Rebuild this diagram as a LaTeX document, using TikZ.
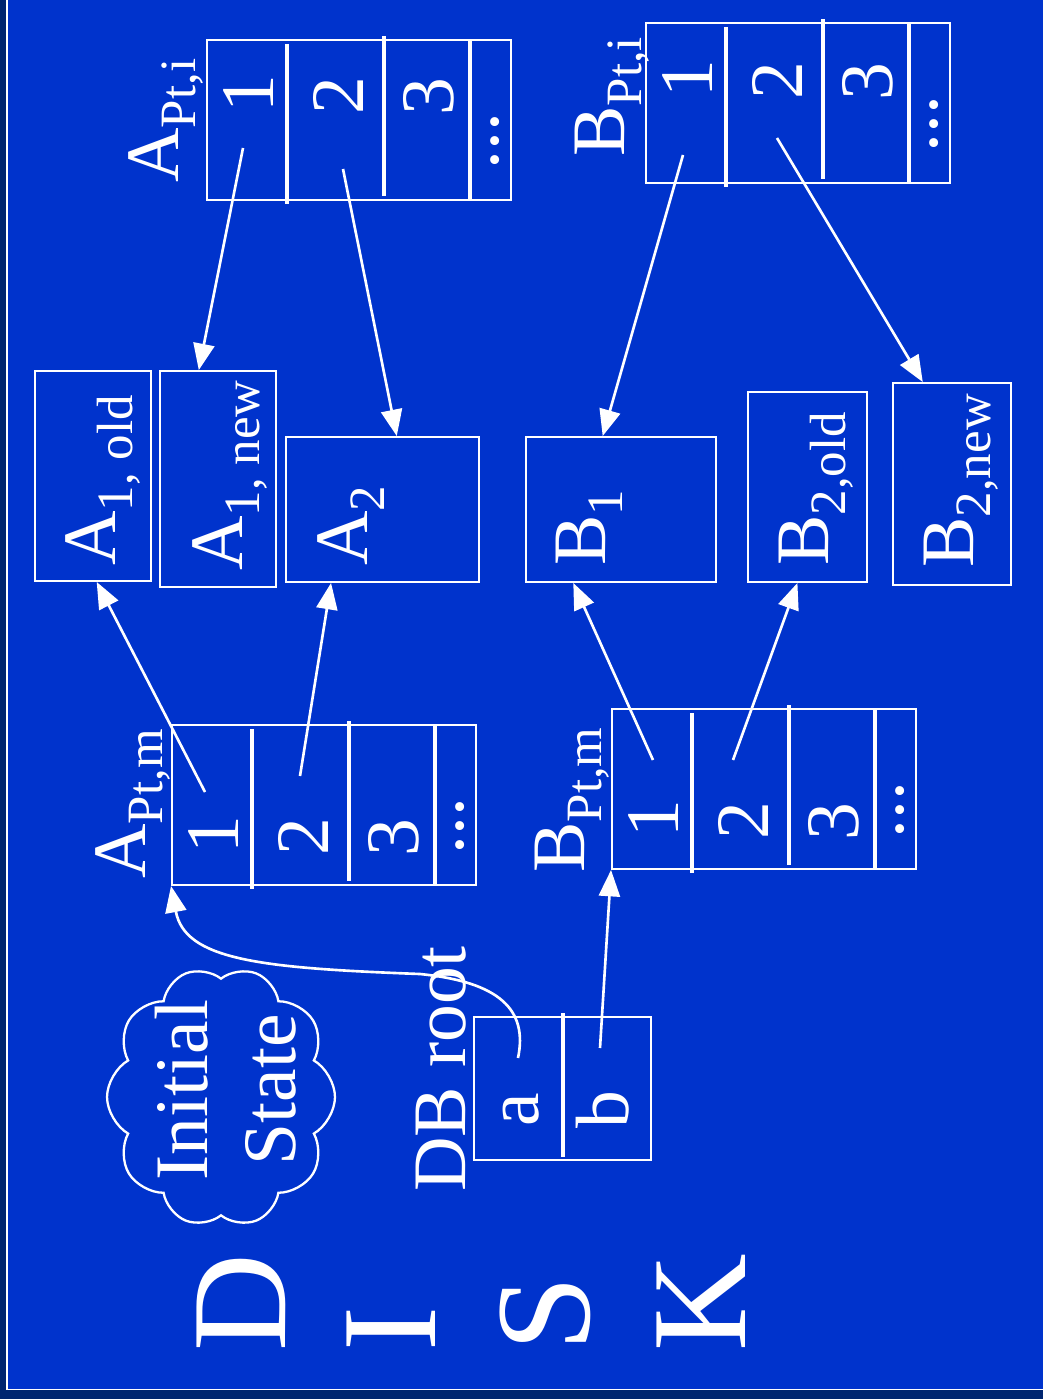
\documentclass[tikz,border=0pt]{standalone}
\usepackage{fontspec}
\setmainfont{Liberation Serif}
\definecolor{dbBlue}{HTML}{0033CC}
\definecolor{dbNavy}{HTML}{002570}
\usetikzlibrary{arrows.meta,fit,shapes.symbols}
\newcommand\lowsub[1]{\raisebox{-10pt}{\fontsize{29}{30}\selectfont #1}}

\begin{document}
\begin{tikzpicture}[x=0.02cm, y=-0.02cm,
  txt/.style={text=white, inner sep=0pt, rotate=90, font=\fontsize{43}{50}\selectfont},
  blk/.style={draw=white, line width=1.1pt, inner sep=0pt},
  sep/.style={white, line width=1.8pt},
  ptr/.style={white, line width=1.5pt, -{Triangle[length=15pt,width=12pt]}}]
  \useasboundingbox (0,0) rectangle (1042,1399);
  \fill[dbNavy] (-5,-5) rectangle (1047,1404);
  \fill[dbBlue] (8,-5) rectangle (1047,1389);
  \draw[white, line width=0.9pt] (7,-5) |- (1047,1389.5);

  % pointer pages
  \foreach \nm/\x/\y/\dy in {api/207/40/54, apm/172/725/110, bpi/646/23/56, bpm/612/709/110} {
    \node[blk, fit={(\x,\y) (\x+304,\y+160)}] (\nm) {};
    \draw[sep] (\x+80,\y+4) -- ++(0,160);
    \draw[sep] (\x+177,\y-4) -- ++(0,160);
    \draw[sep] (\x+263,\y) -- ++(0,160);
    \node[txt, anchor=base] (\nm-1) at (\x+66,\y+\dy) {1};
    \node[txt, anchor=base] (\nm-2) at (\x+156,\y+\dy+2) {2};
    \node[txt, anchor=base] (\nm-3) at (\x+246,\y+\dy+3) {3};
    \node[txt, anchor=base] (\nm-4) at (\x+291,\y+101) {...};
  }
  \node[txt, anchor=base west] (lapi) at (178,183) {A\lowsub{Pt,i}};
  \node[txt, anchor=base west] (lapm) at (145,879) {A\lowsub{Pt,m}};
  \node[txt, anchor=base west] (lbpi) at (624,157) {B\lowsub{Pt,i}};
  \node[txt, anchor=base west] (lbpm) at (584,873) {B\lowsub{Pt,m}};

  % data pages
  \node[blk, fit={(35,371) (151,581)}] (a1old) {};
  \node[blk, fit={(160,371) (276,587)}] (a1new) {};
  \node[blk, fit={(286,437) (479,582)}] (a2) {};
  \node[blk, fit={(526,437) (716,582)}] (b1) {};
  \node[blk, fit={(748,392) (867,582)}] (b2old) {};
  \node[blk, fit={(893,383) (1011,585)}] (b2new) {};
  \node[txt, anchor=base west] (la1old) at (115,566) {A\lowsub{1, old}};
  \node[txt, anchor=base west] (la1new) at (242,571) {A\lowsub{1, new}};
  \node[txt, anchor=base west] (la2) at (367,566) {A\lowsub{2}};
  \node[txt, anchor=base west] (lb1) at (605,566) {B\lowsub{1}};
  \node[txt, anchor=base west] (lb2old) at (828,566) {B\lowsub{2,old}};
  \node[txt, anchor=base west] (lb2new) at (973,568) {B\lowsub{2,new}};

  % root block
  \node[blk, fit={(474,1017) (651,1160)}] (root) {};
  \draw[sep] (563,1013) -- ++(0,144);
  \node[txt, anchor=base] (ra) at (538,1110) {a};
  \node[txt, anchor=base] (rb) at (628,1110) {b};
  \node[txt, anchor=base west] (lroot) at (465,1192) {DB root};

  \node[cloud, draw=white, line width=1.3pt, rotate=90, cloud puffs=10, cloud puff arc=120,
    minimum width=5.2cm, minimum height=4.56cm, inner sep=0pt] (note) at (221,1097) {};
  \node[txt, align=center] (notetxt) at (226,1090) {Initial\\State};

  \foreach \ch/\bx in {D/285, I/435, S/589, K/745}
    \node[txt, anchor=base west, font=\fontsize{77}{80}\selectfont] (disk-\ch) at (\bx,1352) {\ch};

  % pointers
  \coordinate (api1) at (243,148);
  \coordinate (api2) at (343,169);
  \coordinate (bpi1) at (683,155);
  \coordinate (bpi2) at (777,138);
  \coordinate (apm1) at (205,792);
  \coordinate (apm2) at (300,776);
  \coordinate (bpm1) at (653,760);
  \coordinate (bpm2) at (733,760);
  \coordinate (rta) at (518,1058);
  \coordinate (rtb) at (600,1048);
  \draw[ptr] (api1) -- (a1new.100);
  \draw[ptr] (api2) -- (a2.79);
  \draw[ptr] (bpi1) -- (b1.104);
  \draw[ptr] (bpi2) -- (b2new.106);
  \draw[ptr] (apm1) -- (a1old.-88);
  \draw[ptr] (apm2) -- (a2.-125);
  \draw[ptr] (bpm1) -- (b1.-123);
  \draw[ptr] (bpm2) -- (b2old.-96);
  \draw[ptr] (rta) .. controls (528,1010) and (500,982) .. (420,974)
    .. controls (260,968) and (185,960) .. (apm.south west);
  \draw[ptr] (rtb) -- (bpm.south west);
\end{tikzpicture}
\end{document}
